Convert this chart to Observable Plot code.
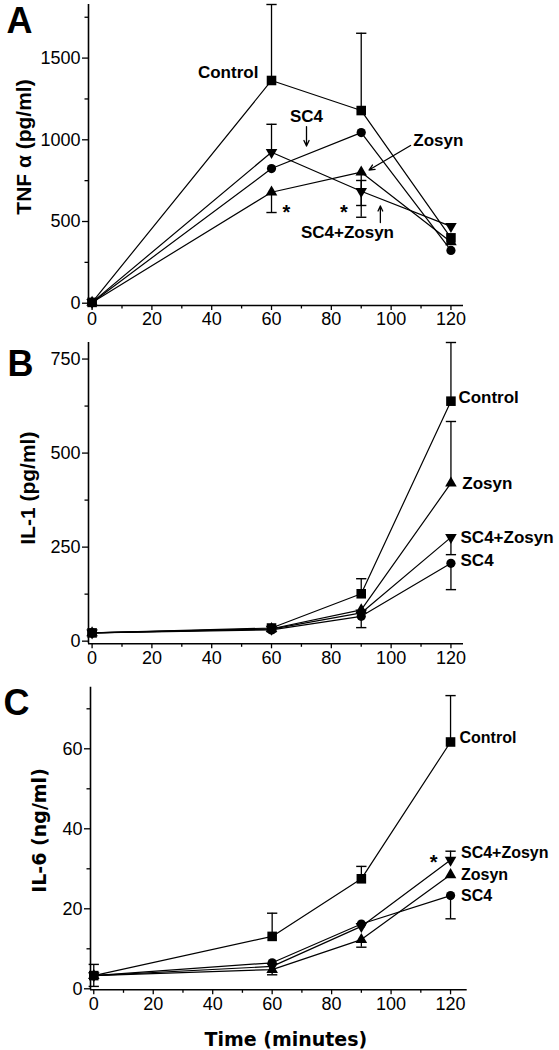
<!DOCTYPE html>
<html>
<head>
<meta charset="utf-8">
<script src="https://cdn.jsdelivr.net/npm/d3@7"></script>
<script src="https://cdn.jsdelivr.net/npm/@observablehq/plot@0.6"></script>
<style>
  html, body { margin: 0; padding: 0; background: #fff; }
  #wrap { position: relative; width: 559px; height: 1050px; overflow: hidden; }
  #wrap svg { position: absolute; left: 0; }
</style>
</head>
<body>
<div id="wrap"></div>
<script>
// ---------- data ----------
const times = [0, 60, 90, 120];
const groups = ["Control", "SC4", "Zosyn", "SC4+Zosyn"];
const xTicks = [0, 20, 40, 60, 80, 100, 120];
const xMinor = [10, 30, 50, 70, 90, 110];

// Panel A: TNF-alpha (pg/ml)
const tnfControl   = [5, 1363, 1179, 400];
const tnfSC4       = [5, 824, 1044, 323];
const tnfZosyn     = [5, 679, 802, 375];
const tnfSC4Zosyn  = [5, 924, 685, 470];
const tnfControlHi = [null, 1828, 1652, null];
const tnfSC4ZosynHi = [null, 1095, 751, null];
const tnfSC4ZosynLo = [null, null, 526, null];
const tnfZosynLo   = [null, 555, 598, null];
const tnfTicks = [0, 500, 1000, 1500];
const tnfMinor = [250, 750, 1250, 1750];

// Panel B: IL-1 (pg/ml)
const il1Control   = [22, 35, 126, 638];
const il1SC4       = [22, 30, 66, 207];
const il1Zosyn     = [22, 33, 83, 420];
const il1SC4Zosyn  = [22, 32, 75, 276];
const il1ControlHi = [null, null, 166, 794];
const il1ZosynHi   = [null, null, null, 584];
const il1SC4Lo     = [null, null, 36, 137];
const il1SC4ZosynLo = [null, null, null, 230];
const il1Ticks = [0, 250, 500, 750];
const il1Minor = [125, 375, 625];

// Panel C: IL-6 (ng/ml)
const il6Control   = [3.3, 13.1, 27.5, 61.7];
const il6SC4       = [3.3, 6.5, 16.2, 23.3];
const il6Zosyn     = [3.3, 4.8, 12.3, 28.5];
const il6SC4Zosyn  = [3.3, 5.6, 15.6, 32.2];
const il6ControlHi = [6.1, 18.9, 30.6, 73.3];
const il6ControlLo = [0.6, null, null, null];
const il6SC4Lo     = [null, null, null, 17.5];
const il6ZosynLo   = [null, 3.5, 10.4, null];
const il6SC4ZosynHi = [null, null, null, 34.4];
const il6Ticks = [0, 20, 40, 60];
const il6Minor = [10, 30, 50, 70];

// ---------- helpers ----------
const sqrt3 = Math.sqrt(3);
const triangleDown = {
  draw(ctx, size) {
    const y = -Math.sqrt(size / (sqrt3 * 3));
    ctx.moveTo(0, -y * 2);
    ctx.lineTo(-sqrt3 * y, y);
    ctx.lineTo(sqrt3 * y, y);
    ctx.closePath();
  }
};
const capSymbol = {
  draw(ctx, size) {
    const w = Math.sqrt(size);
    ctx.moveTo(-w, 0);
    ctx.lineTo(w, 0);
  }
};
const symbolOf = {"Control": "square", "SC4": "circle", "Zosyn": "triangle", "SC4+Zosyn": triangleDown};
const rOf = {"Control": 5.4, "SC4": 4.6, "Zosyn": 4.3, "SC4+Zosyn": 4.3};

const sansFont = "'Liberation Sans', Arial, Helvetica, sans-serif";
const dejaFont = "'DejaVu Sans', Verdana, sans-serif";

function buildRows(series) {
  const rows = [];
  series.forEach(s => {
    times.forEach((t, i) => {
      rows.push({g: s.name, t, v: s.values[i],
        hi: s.hi ? s.hi[i] : null, lo: s.lo ? s.lo[i] : null});
    });
  });
  return rows;
}

function panel(cfg) {
  const rows = buildRows(cfg.series);
  const hiRows = rows.filter(d => d.hi != null);
  const loRows = rows.filter(d => d.lo != null);
  const marks = [
    Plot.axisY({ticks: cfg.yTicks, tickSize: 6, tickPadding: 2, fontSize: 18, strokeWidth: 1.3, tickFormat: d => String(d)}),
    Plot.axisY({ticks: cfg.yMinor, tickSize: 3.5, strokeWidth: 1.3, tickFormat: () => ""}),
    Plot.axisX({ticks: xTicks, tickSize: 5, tickPadding: 2, fontSize: 18, strokeWidth: 1.3, tickFormat: d => String(d)}),
    Plot.axisX({ticks: xMinor, tickSize: 3.5, strokeWidth: 1.3, tickFormat: () => ""}),
    Plot.ruleX([cfg.xDomain[0]], {stroke: "black", strokeWidth: 1.6}),
    Plot.ruleY([cfg.yDomain[0]], {stroke: "black", strokeWidth: 1.6}),
    Plot.line(rows, {x: "t", y: "v", z: "g", stroke: "black", strokeWidth: 1.2}),
    Plot.ruleX(hiRows, {x: "t", y1: "v", y2: "hi", stroke: "black", strokeWidth: 1.3}),
    Plot.ruleX(loRows, {x: "t", y1: "v", y2: "lo", stroke: "black", strokeWidth: 1.3}),
    Plot.dot(hiRows, {x: "t", y: "hi", symbol: capSymbol, r: 2.9, stroke: "black", fill: "none", strokeWidth: 1.4}),
    Plot.dot(loRows, {x: "t", y: "lo", symbol: capSymbol, r: 2.9, stroke: "black", fill: "none", strokeWidth: 1.4}),
    ...groups.map(g => Plot.dot(rows.filter(d => d.g === g), {
      x: "t", y: "v", symbol: symbolOf[g], r: rOf[g], fill: "black", stroke: "none"
    })),
    ...["start", "middle", "end"].map(a => Plot.text(cfg.labels.filter(d => d.anchor === a), {
      x: "x", y: "y", text: "text", textAnchor: a,
      fontSize: cfg.labelSize || 17, fontWeight: "bold", fontFamily: sansFont, fill: "black"})),
    Plot.text(cfg.stars || [], {x: "x", y: "y", text: () => "*", fontSize: 20, fontWeight: "bold", fontFamily: sansFont, lineAnchor: "middle", dy: 4}),
    Plot.arrow(cfg.arrows || [], {x1: "x1", y1: "y1", x2: "x2", y2: "y2", stroke: "black", strokeWidth: 1.3, headLength: 7, headAngle: 50}),
    Plot.text([cfg.yLabel], {frameAnchor: "left", rotate: -90, textAnchor: "middle", lineAnchor: "middle",
      dx: cfg.ylabDx, dy: cfg.ylabDy, fontSize: cfg.ylabSize, fontWeight: "bold", fontFamily: cfg.ylabFont, fill: "black"}),
    Plot.text([cfg.letter], {frameAnchor: "top-left", textAnchor: "start", lineAnchor: "bottom",
      dx: cfg.letterDx, dy: cfg.letterDy, fontSize: 36, fontWeight: "bold", fontFamily: sansFont, fill: "black"})
  ];
  if (cfg.xTitle) {
    marks.push(Plot.text([cfg.xTitle], {frameAnchor: "bottom", textAnchor: "middle", lineAnchor: "bottom",
      dx: 7, dy: 56, fontSize: 19, fontWeight: "bold", fontFamily: dejaFont, fill: "black"}));
  }
  const svg = Plot.plot({
    width: 559,
    height: cfg.height,
    marginLeft: cfg.ml, marginRight: cfg.mr, marginTop: cfg.mt, marginBottom: cfg.mb,
    x: {domain: cfg.xDomain, label: null},
    y: {domain: cfg.yDomain, label: null},
    style: {fontFamily: sansFont, fontSize: "18px", background: "transparent", color: "black", overflow: "visible"},
    marks
  });
  svg.style.top = cfg.top + "px";
  document.getElementById("wrap").appendChild(svg);
}

// ---------- panels ----------
panel({
  top: 0, height: 340, ml: 88, mr: 96, mt: 4, mb: 35,
  xDomain: [-1.2, 124.2], yDomain: [-14, 1828],
  yTicks: tnfTicks, yMinor: tnfMinor,
  series: [
    {name: "Control", values: tnfControl, hi: tnfControlHi},
    {name: "SC4", values: tnfSC4},
    {name: "Zosyn", values: tnfZosyn, lo: tnfZosynLo},
    {name: "SC4+Zosyn", values: tnfSC4Zosyn, hi: tnfSC4ZosynHi, lo: tnfSC4ZosynLo}
  ],
  labels: [
    {text: "Control", x: 55.6, y: 1412, anchor: "end"},
    {text: "SC4", x: 71.7, y: 1140, anchor: "middle"},
    {text: "Zosyn", x: 107.4, y: 995, anchor: "start"},
    {text: "SC4+Zosyn", x: 85.4, y: 432, anchor: "middle"}
  ],
  arrows: [
    {x1: 71.7, y1: 1081, x2: 71.7, y2: 962},
    {x1: 106.5, y1: 965, x2: 92.6, y2: 815},
    {x1: 96.4, y1: 494, x2: 96.4, y2: 595}
  ],
  stars: [{x: 65, y: 578}, {x: 84.2, y: 578}],
  yLabel: "TNF α (pg/ml)", ylabDx: -64, ylabDy: -8, ylabSize: 21, ylabFont: sansFont,
  letter: "A", letterDx: -82, letterDy: 28
});

panel({
  top: 340, height: 340, ml: 88, mr: 96, mt: 2, mb: 36.7,
  xDomain: [-1.2, 124.2], yDomain: [-7, 794],
  yTicks: il1Ticks, yMinor: il1Minor,
  series: [
    {name: "Control", values: il1Control, hi: il1ControlHi},
    {name: "SC4", values: il1SC4, lo: il1SC4Lo},
    {name: "Zosyn", values: il1Zosyn, hi: il1ZosynHi},
    {name: "SC4+Zosyn", values: il1SC4Zosyn, lo: il1SC4ZosynLo}
  ],
  labels: [
    {text: "Control", x: 122.5, y: 647, anchor: "start"},
    {text: "Zosyn", x: 123.8, y: 419, anchor: "start"},
    {text: "SC4+Zosyn", x: 123.2, y: 275, anchor: "start"},
    {text: "SC4", x: 123.2, y: 214, anchor: "start"}
  ],
  yLabel: "IL-1 (pg/ml)", ylabDx: -60, ylabDy: -5, ylabSize: 21, ylabFont: sansFont,
  letter: "B", letterDx: -81, letterDy: 33
});

panel({
  top: 680, height: 370, ml: 90, mr: 92.3, mt: 6.7, mb: 60.7,
  xDomain: [-1.1, 125.6], yDomain: [-0.25, 75.4],
  yTicks: il6Ticks, yMinor: il6Minor,
  series: [
    {name: "Control", values: il6Control, hi: il6ControlHi, lo: il6ControlLo},
    {name: "SC4", values: il6SC4, lo: il6SC4Lo},
    {name: "Zosyn", values: il6Zosyn, lo: il6ZosynLo},
    {name: "SC4+Zosyn", values: il6SC4Zosyn, hi: il6SC4ZosynHi}
  ],
  labelSize: 16,
  labels: [
    {text: "Control", x: 123, y: 62.8, anchor: "start"},
    {text: "SC4+Zosyn", x: 123.5, y: 33.9, anchor: "start"},
    {text: "Zosyn", x: 123.5, y: 28.4, anchor: "start"},
    {text: "SC4", x: 123.5, y: 23.3, anchor: "start"}
  ],
  stars: [{x: 114.3, y: 32.6}],
  yLabel: "IL-6 (ng/ml)", ylabDx: -51, ylabDy: -8, ylabSize: 19, ylabFont: dejaFont,
  letter: "C", letterDx: -87, letterDy: 28,
  xTitle: "Time (minutes)"
});
</script>
</body>
</html>
